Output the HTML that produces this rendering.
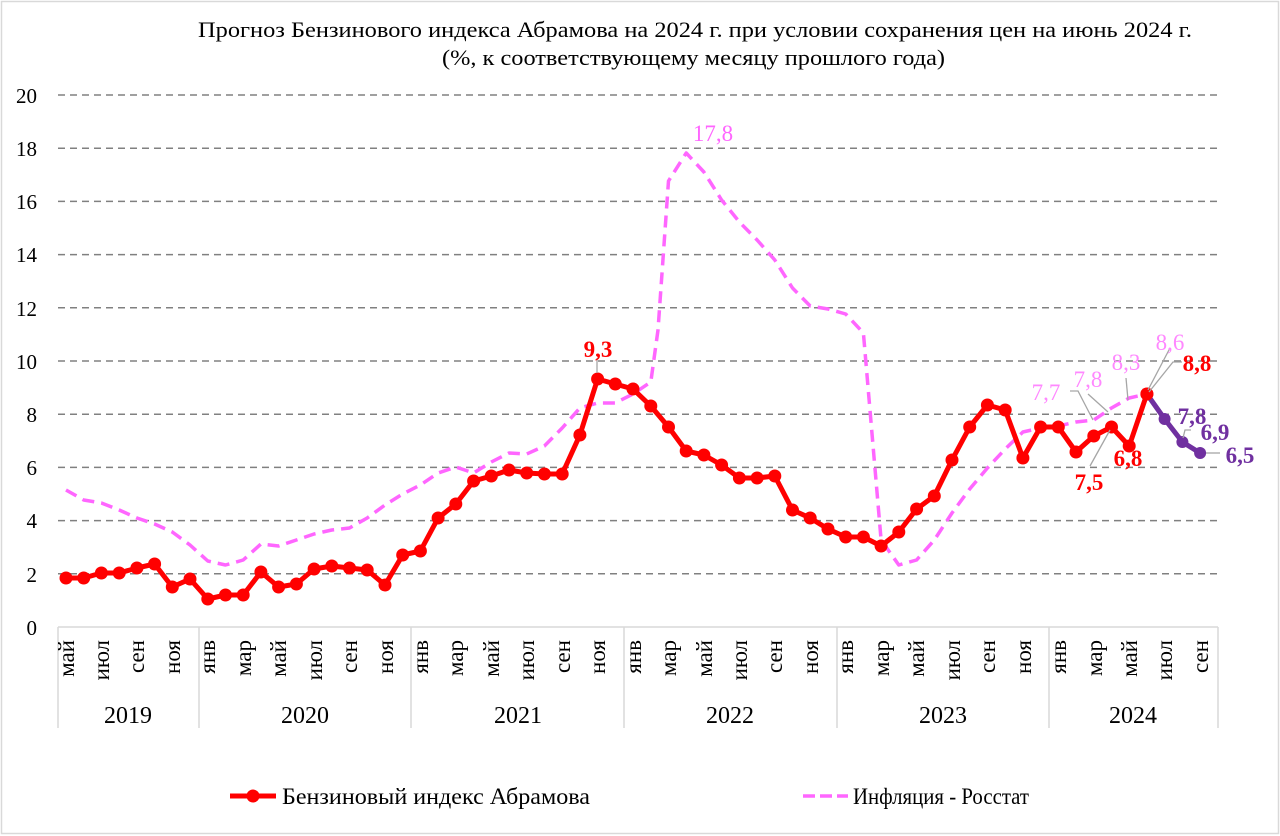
<!DOCTYPE html>
<html><head><meta charset="utf-8"><style>
html,body{margin:0;padding:0;background:#fff;}
svg{display:block;font-family:"Liberation Serif",serif;}
</style></head><body>
<svg width="1280" height="836" viewBox="0 0 1280 836" xmlns="http://www.w3.org/2000/svg">
<defs>
<marker id="rd" markerUnits="userSpaceOnUse" markerWidth="16" markerHeight="16" refX="8" refY="8"><circle cx="8" cy="8" r="6.5" fill="#ff0000"/></marker>
<marker id="pd" markerUnits="userSpaceOnUse" markerWidth="16" markerHeight="16" refX="8" refY="8"><circle cx="8" cy="8" r="6" fill="#7030a0"/></marker>
</defs>
<rect x="1.5" y="1.5" width="1277" height="832" fill="#fff" stroke="#d9d9d9" stroke-width="1.5"/>
<text x="198" y="37" font-size="22" textLength="994" lengthAdjust="spacingAndGlyphs">Прогноз Бензинового индекса Абрамова на 2024 г. при условии сохранения цен на июнь 2024 г.</text>
<text x="442" y="65" font-size="22" textLength="503" lengthAdjust="spacingAndGlyphs">(%, к соответствующему  месяцу прошлого года)</text>
<g stroke="#808080" stroke-width="1.5" stroke-dasharray="7,5">
<line x1="58" y1="95" x2="1218" y2="95"/><line x1="58" y1="148.2" x2="1218" y2="148.2"/><line x1="58" y1="201.4" x2="1218" y2="201.4"/><line x1="58" y1="254.6" x2="1218" y2="254.6"/><line x1="58" y1="307.8" x2="1218" y2="307.8"/><line x1="58" y1="361" x2="1218" y2="361"/><line x1="58" y1="414.2" x2="1218" y2="414.2"/><line x1="58" y1="467.4" x2="1218" y2="467.4"/><line x1="58" y1="520.6" x2="1218" y2="520.6"/><line x1="58" y1="573.8" x2="1218" y2="573.8"/>
</g>
<g stroke="#d9d9d9" stroke-width="1.5">
<line x1="58" y1="627" x2="1218" y2="627"/>
<line x1="58" y1="627" x2="58" y2="728"/><line x1="199" y1="627" x2="199" y2="728"/><line x1="411" y1="627" x2="411" y2="728"/><line x1="624" y1="627" x2="624" y2="728"/><line x1="837" y1="627" x2="837" y2="728"/><line x1="1049" y1="627" x2="1049" y2="728"/><line x1="1218" y1="627" x2="1218" y2="728"/>
</g>
<g font-size="21" text-anchor="end">
<text x="37" y="103">20</text><text x="37" y="156">18</text><text x="37" y="209">16</text><text x="37" y="262">14</text><text x="37" y="316">12</text><text x="37" y="369">10</text><text x="37" y="422">8</text><text x="37" y="475">6</text><text x="37" y="528">4</text><text x="37" y="582">2</text><text x="37" y="635">0</text>
</g>
<g font-size="23" text-anchor="end">
<text transform="translate(74,640) rotate(-90)">май</text>
<text transform="translate(109,640) rotate(-90)">июл</text>
<text transform="translate(144,640) rotate(-90)">сен</text>
<text transform="translate(180,640) rotate(-90)">ноя</text>
<text transform="translate(215,640) rotate(-90)">янв</text>
<text transform="translate(251,640) rotate(-90)">мар</text>
<text transform="translate(286,640) rotate(-90)">май</text>
<text transform="translate(322,640) rotate(-90)">июл</text>
<text transform="translate(357,640) rotate(-90)">сен</text>
<text transform="translate(393,640) rotate(-90)">ноя</text>
<text transform="translate(428,640) rotate(-90)">янв</text>
<text transform="translate(463,640) rotate(-90)">мар</text>
<text transform="translate(499,640) rotate(-90)">май</text>
<text transform="translate(534,640) rotate(-90)">июл</text>
<text transform="translate(570,640) rotate(-90)">сен</text>
<text transform="translate(605,640) rotate(-90)">ноя</text>
<text transform="translate(641,640) rotate(-90)">янв</text>
<text transform="translate(676,640) rotate(-90)">мар</text>
<text transform="translate(712,640) rotate(-90)">май</text>
<text transform="translate(747,640) rotate(-90)">июл</text>
<text transform="translate(782,640) rotate(-90)">сен</text>
<text transform="translate(818,640) rotate(-90)">ноя</text>
<text transform="translate(853,640) rotate(-90)">янв</text>
<text transform="translate(889,640) rotate(-90)">мар</text>
<text transform="translate(924,640) rotate(-90)">май</text>
<text transform="translate(960,640) rotate(-90)">июл</text>
<text transform="translate(995,640) rotate(-90)">сен</text>
<text transform="translate(1031,640) rotate(-90)">ноя</text>
<text transform="translate(1066,640) rotate(-90)">янв</text>
<text transform="translate(1102,640) rotate(-90)">мар</text>
<text transform="translate(1137,640) rotate(-90)">май</text>
<text transform="translate(1172,640) rotate(-90)">июл</text>
<text transform="translate(1208,640) rotate(-90)">сен</text>
</g>
<g font-size="24" text-anchor="middle">
<text x="128" y="723">2019</text><text x="305" y="723">2020</text><text x="518" y="723">2021</text><text x="730" y="723">2022</text><text x="943" y="723">2023</text><text x="1133" y="723">2024</text>
</g>
<polyline fill="none" stroke="#ff66ff" stroke-width="3.5" stroke-dasharray="12,7" stroke-linejoin="round" points="66,490 83.7,500 101.4,503 119.2,510 136.9,518 154.6,524 172.3,532 190,545 207.8,561 225.5,565 243.2,560 260.9,544 278.6,546 296.4,540 314.1,534 331.8,530 349.5,528 367.2,518 385,505 402.7,494 420.4,485 438.1,473 455.8,467 473.6,473 491.3,462 509,453 526.7,454 544.4,446 562.2,428 579.9,408 597.6,403 615.3,403 633,394 650.8,382 658,330 668.5,181 686.2,153 703.9,172 721.6,200 739.4,222 757.1,240 774.8,260 792.5,288 810.2,306 828,309 845.7,314 863.4,333 881.1,540 898.8,565 916.6,560 934.3,540 952,513 969.7,489 987.4,468 1005.2,449 1022.9,432 1040.6,428 1058.3,426 1076,422 1093.8,420 1111.5,408 1129.2,398 1146.9,394"/>
<polyline fill="none" stroke="#ff0000" stroke-width="5" stroke-linejoin="round" marker-start="url(#rd)" marker-mid="url(#rd)" marker-end="url(#rd)" points="66,578 83.7,578 101.4,573 119.2,573 136.9,568 154.6,564 172.3,587 190,579 207.8,599 225.5,595 243.2,595 260.9,572 278.6,587 296.4,584 314.1,569 331.8,566 349.5,568 367.2,570 385,585 402.7,555 420.4,551 438.1,518 455.8,504 473.6,481 491.3,476 509,470 526.7,473 544.4,474 562.2,474 579.9,435 597.6,379 615.3,384 633,389 650.8,406 668.5,427 686.2,451 703.9,455 721.6,465 739.4,478 757.1,478 774.8,476 792.5,510 810.2,518 828,529 845.7,537 863.4,537 881.1,546 898.8,532 916.6,509 934.3,496 952,460 969.7,427 987.4,405 1005.2,410 1022.9,458 1040.6,427 1058.3,427 1076,452 1093.8,436 1111.5,427 1129.2,446 1146.9,394"/>
<polyline fill="none" stroke="#7030a0" stroke-width="5" stroke-linejoin="round" marker-mid="url(#pd)" marker-end="url(#pd)" points="1146.9,394 1164.6,419 1182.4,442 1200.1,453"/>
<circle cx="1146.9" cy="394" r="6.5" fill="#ff0000"/>
<g stroke="#a6a6a6" stroke-width="1.3" fill="none">
<line x1="597" y1="358" x2="597" y2="373"/>
<polyline points="1070,391 1078,391 1093,420"/>
<line x1="1088" y1="394" x2="1108" y2="412"/>
<line x1="1126" y1="378" x2="1128" y2="400"/>
<line x1="1170" y1="348" x2="1148" y2="390"/>
<polyline points="1182,362 1173,362 1149,392"/>
<polyline points="1191,430 1185,430 1183,438"/>
<line x1="1206" y1="453" x2="1220" y2="453"/>
<line x1="1090" y1="466" x2="1110" y2="430"/>
</g>
<g font-size="23" text-anchor="middle">
<text x="598" y="357" fill="#ff0000" font-weight="bold">9,3</text>
<text x="713" y="141" fill="#ff66ff">17,8</text>
<text x="1046" y="400" fill="#ff88ff">7,7</text>
<text x="1088" y="387" fill="#ff88ff">7,8</text>
<text x="1126" y="370" fill="#ff88ff">8,3</text>
<text x="1170" y="350" fill="#ff88ff">8,6</text>
<text x="1197" y="371" fill="#ff0000" font-weight="bold">8,8</text>
<text x="1192" y="424" fill="#7030a0" font-weight="bold">7,8</text>
<text x="1215" y="440" fill="#7030a0" font-weight="bold">6,9</text>
<text x="1240" y="463" fill="#7030a0" font-weight="bold">6,5</text>
<text x="1089" y="490" fill="#ff0000" font-weight="bold">7,5</text>
<text x="1128" y="466" fill="#ff0000" font-weight="bold">6,8</text>
</g>
<line x1="230" y1="796" x2="276" y2="796" stroke="#ff0000" stroke-width="5"/>
<circle cx="253" cy="796" r="6.5" fill="#ff0000"/>
<text x="282" y="804" font-size="23" textLength="308" lengthAdjust="spacingAndGlyphs">Бензиновый индекс Абрамова</text>
<line x1="803" y1="796" x2="848" y2="796" stroke="#ff66ff" stroke-width="3.5" stroke-dasharray="12,5"/>
<text x="853" y="804" font-size="23" textLength="176" lengthAdjust="spacingAndGlyphs">Инфляция - Росстат</text>
</svg>
</body></html>
